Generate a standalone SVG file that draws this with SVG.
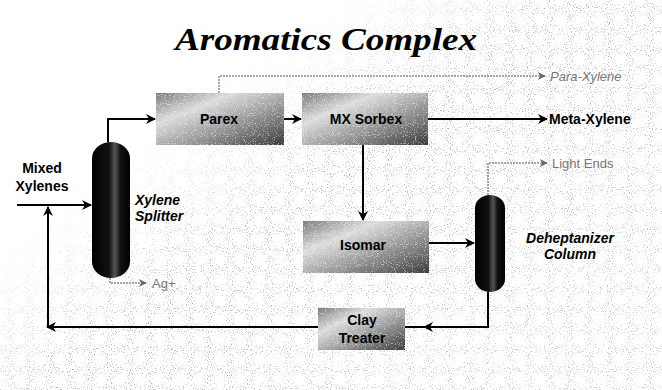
<svg xmlns="http://www.w3.org/2000/svg" width="662" height="390" viewBox="0 0 662 390">
  <defs>
    <style>
      .box-label { font-family: "Liberation Sans Narrow", "Liberation Sans", Arial, sans-serif; font-weight: bold; font-size: 14px; fill: #000; text-anchor: middle; }
      .lbl { font-family: "Liberation Sans Narrow", "Liberation Sans", Arial, sans-serif; font-weight: bold; font-size: 14px; fill: #000; }
      .lbli { font-family: "Liberation Sans Narrow", "Liberation Sans", Arial, sans-serif; font-weight: bold; font-style: italic; font-size: 14px; fill: #000; }
      .gray { font-family: "Liberation Sans Narrow", "Liberation Sans", Arial, sans-serif; font-size: 13px; fill: #777; }
      .main { fill: none; stroke: #000; stroke-width: 2; }
      .thin { fill: none; stroke: #555; stroke-width: 1; stroke-dasharray: 2 1; }
    </style>
    <linearGradient id="boxGrad" x1="0" y1="0" x2="1" y2="1">
      <stop offset="0" stop-color="#7a7a7a"/>
      <stop offset="0.3" stop-color="#dcdcdc"/>
      <stop offset="0.6" stop-color="#9a9a9a"/>
      <stop offset="1" stop-color="#3a3a3a"/>
    </linearGradient>
    <linearGradient id="colGrad" x1="0" y1="0" x2="1" y2="0">
      <stop offset="0" stop-color="#000"/>
      <stop offset="0.45" stop-color="#111"/>
      <stop offset="0.6" stop-color="#555"/>
      <stop offset="0.75" stop-color="#111"/>
      <stop offset="1" stop-color="#000"/>
    </linearGradient>
    <linearGradient id="bgMaskGrad" gradientUnits="userSpaceOnUse" x1="250" y1="60" x2="460" y2="340">
      <stop offset="0" stop-color="#000"/>
      <stop offset="0.4" stop-color="#fff"/>
      <stop offset="1" stop-color="#ccc"/>
    </linearGradient>
    <mask id="bgMask">
      <rect x="0" y="0" width="662" height="390" fill="url(#bgMaskGrad)"/>
    </mask>
    <filter id="grain" x="0" y="0" width="100%" height="100%">
      <feTurbulence type="fractalNoise" baseFrequency="0.95" numOctaves="1" seed="7" result="n"/>
      <feColorMatrix type="matrix" values="0 0 0 0 0.45  0 0 0 0 0.45  0 0 0 0 0.45  7 0 0 0 -4.1"/>
    </filter>
    <filter id="boxGrain" x="0" y="0" width="100%" height="100%">
      <feTurbulence type="fractalNoise" baseFrequency="1.1" numOctaves="1" seed="11" result="n"/>
      <feColorMatrix type="matrix" values="0 0 0 0 1  0 0 0 0 1  0 0 0 0 1  8 0 0 0 -4.6"/>
    </filter>
    <marker id="ah" viewBox="0 0 10 10" refX="9" refY="5" markerWidth="10" markerHeight="10" markerUnits="userSpaceOnUse" orient="auto">
      <path d="M0,0 L10,5 L0,10 L3,5 Z" fill="#000"/>
    </marker>
    <marker id="ahg" viewBox="0 0 10 10" refX="9" refY="5" markerWidth="9" markerHeight="8" markerUnits="userSpaceOnUse" orient="auto">
      <path d="M0,0 L10,5 L0,10 L3,5 Z" fill="#666"/>
    </marker>
  </defs>

  <rect x="0" y="0" width="662" height="390" fill="#fff"/>
  <g id="background" mask="url(#bgMask)">
    <rect x="0" y="0" width="662" height="390" fill="#fff" filter="url(#grain)"/>
  </g>

  <text id="title" x="326" y="50" font-family="Liberation Serif, Times New Roman, serif" font-weight="bold" font-style="italic" font-size="32" text-anchor="middle" textLength="302" lengthAdjust="spacingAndGlyphs">Aromatics Complex</text>

  <g id="connectors">
    <polyline class="main" points="108,142 108,119 155,119" marker-end="url(#ah)"/>
    <line class="main" x1="284" y1="119" x2="301" y2="119" marker-end="url(#ah)"/>
    <polyline class="thin" points="219,93 219,76 545,76" marker-end="url(#ahg)"/>
    <line class="main" x1="428" y1="119" x2="547" y2="119" marker-end="url(#ah)"/>
    <line class="main" x1="363" y1="145" x2="363" y2="220" marker-end="url(#ah)"/>
    <line class="main" x1="429" y1="243" x2="474" y2="243" marker-end="url(#ah)"/>
    <polyline class="thin" points="488,195 488,163 547,163" marker-end="url(#ahg)"/>
    <polyline class="main" points="488,292 488,327 405,327"/>
    <line class="main" x1="440" y1="327" x2="424" y2="327" marker-end="url(#ah)"/>
    <line class="main" x1="318" y1="327" x2="47" y2="327" marker-end="url(#ah)"/>
    <line class="main" x1="48" y1="327" x2="48" y2="207" marker-end="url(#ah)"/>
    <line class="main" x1="17" y1="205" x2="91" y2="205" marker-end="url(#ah)"/>
    <polyline class="thin" points="110,278 110,283 146,283" marker-end="url(#ahg)"/>
  </g>

  <g id="parex">
    <rect x="156" y="93" width="128" height="52" fill="url(#boxGrad)"/>
    <rect x="156" y="93" width="128" height="52" fill="#fff" filter="url(#boxGrain)" opacity="0.5"/>
    <text class="box-label" x="219" y="124">Parex</text>
  </g>

  <g id="mx-sorbex">
    <rect x="302" y="93" width="126" height="52" fill="url(#boxGrad)"/>
    <rect x="302" y="93" width="126" height="52" fill="#fff" filter="url(#boxGrain)" opacity="0.5"/>
    <text class="box-label" x="366" y="124">MX Sorbex</text>
  </g>

  <g id="isomar">
    <rect x="303" y="221" width="126" height="52" fill="url(#boxGrad)"/>
    <rect x="303" y="221" width="126" height="52" fill="#fff" filter="url(#boxGrain)" opacity="0.5"/>
    <text class="box-label" x="363" y="250">Isomar</text>
  </g>

  <g id="clay-treater">
    <rect x="318" y="308" width="87" height="42" fill="url(#boxGrad)"/>
    <rect x="318" y="308" width="87" height="42" fill="#fff" filter="url(#boxGrain)" opacity="0.5"/>
    <text class="box-label" x="362" y="325">Clay</text>
    <text class="box-label" x="362" y="343">Treater</text>
  </g>

  <g id="xylene-splitter">
    <rect x="92" y="142" width="38" height="136" rx="19" ry="16" fill="url(#colGrad)"/>
    <text class="lbli" x="135" y="205">Xylene</text>
    <text class="lbli" x="135" y="221">Splitter</text>
  </g>

  <g id="deheptanizer">
    <rect x="475" y="195" width="30" height="97" rx="15" ry="13" fill="url(#colGrad)"/>
    <text class="lbli" x="570" y="243" text-anchor="middle">Deheptanizer</text>
    <text class="lbli" x="570" y="259" text-anchor="middle">Column</text>
  </g>

  <g id="mixed-xylenes">
    <text class="lbl" x="42" y="173" text-anchor="middle">Mixed</text>
    <text class="lbl" x="42" y="191" text-anchor="middle">Xylenes</text>
  </g>

  <g id="para-xylene">
    <text class="gray" x="550" y="81" font-style="italic">Para-Xylene</text>
  </g>
  <g id="meta-xylene">
    <text class="lbl" x="549" y="124">Meta-Xylene</text>
  </g>
  <g id="light-ends">
    <text class="gray" x="552" y="168">Light Ends</text>
  </g>
  <g id="ag">
    <text class="gray" x="152" y="288">Ag+</text>
  </g>
</svg>
